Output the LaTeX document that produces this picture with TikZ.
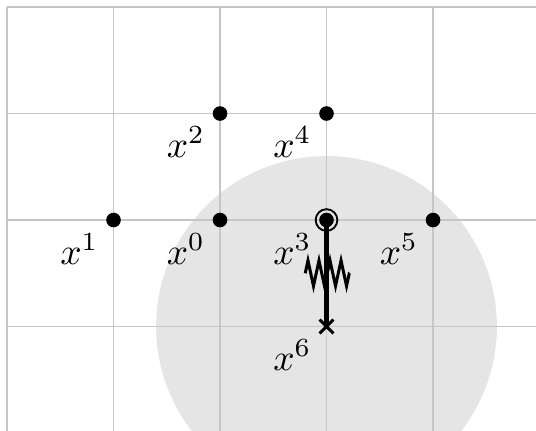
\documentclass[tikz,border=0pt]{standalone}
\usetikzlibrary{calc,decorations.pathmorphing}
\tikzset{
  gridline/.style={gray!45, line width=0.5pt},
  dot/.style={circle, fill=black, inner sep=0pt, minimum size=3.9pt},
  lbl/.style={inner sep=0pt},
  ring/.style={circle, draw=black, line width=0.5pt, inner sep=0pt, minimum size=5.8pt},
}
\begin{document}
\begin{tikzpicture}[x=1cm,y=1cm]
\useasboundingbox (-2.066,-1.981) rectangle (2.967,2.066);
\clip (-2.066,-1.981) rectangle (2.967,2.066);
\fill[gray!20] (1,-1) circle (1.6);
\draw[gridline] (-2,-1.981) grid (2.967,2);
% points
\node[dot] (x0) at (0,0) {};
\node[dot] (x1) at (-1,0) {};
\node[dot] (x2) at (0,1) {};
\node[dot] (x4) at (1,1) {};
\node[dot] (x5) at (2,0) {};
\coordinate (x3) at (1,0);
\coordinate (x6) at (1,-1);
% thick line
\draw[line width=1.2pt] (x3) -- (x6);
\node[dot] (x3dot) at (x3) {};
\node[ring] (x3ring) at (x3) {};
% cross
\draw[line width=0.8pt] ($(x6)+(-0.065,-0.065)$) -- ($(x6)+(0.065,0.065)$);
\draw[line width=0.8pt] ($(x6)+(-0.065,0.065)$) -- ($(x6)+(0.065,-0.065)$);
% zigzag
\coordinate (zl) at (0.80,-0.50);
\coordinate (zr) at (1.215,-0.50);
\draw[line width=0.8pt, line join=miter, decorate, decoration={zigzag, segment length=0.1035cm, amplitude=0.12cm}] (zl) -- (zr);
% labels
\node[lbl] (l0) at ($(x0)+(-0.32,-0.27)$) {$x^0$};
\node[lbl] (l1) at ($(x1)+(-0.32,-0.27)$) {$x^1$};
\node[lbl] (l2) at ($(x2)+(-0.32,-0.27)$) {$x^2$};
\node[lbl] (l3) at ($(x3)+(-0.32,-0.27)$) {$x^3$};
\node[lbl] (l4) at ($(x4)+(-0.32,-0.27)$) {$x^4$};
\node[lbl] (l5) at ($(x5)+(-0.32,-0.27)$) {$x^5$};
\node[lbl] (l6) at ($(x6)+(-0.32,-0.27)$) {$x^6$};
\end{tikzpicture}
\end{document}
